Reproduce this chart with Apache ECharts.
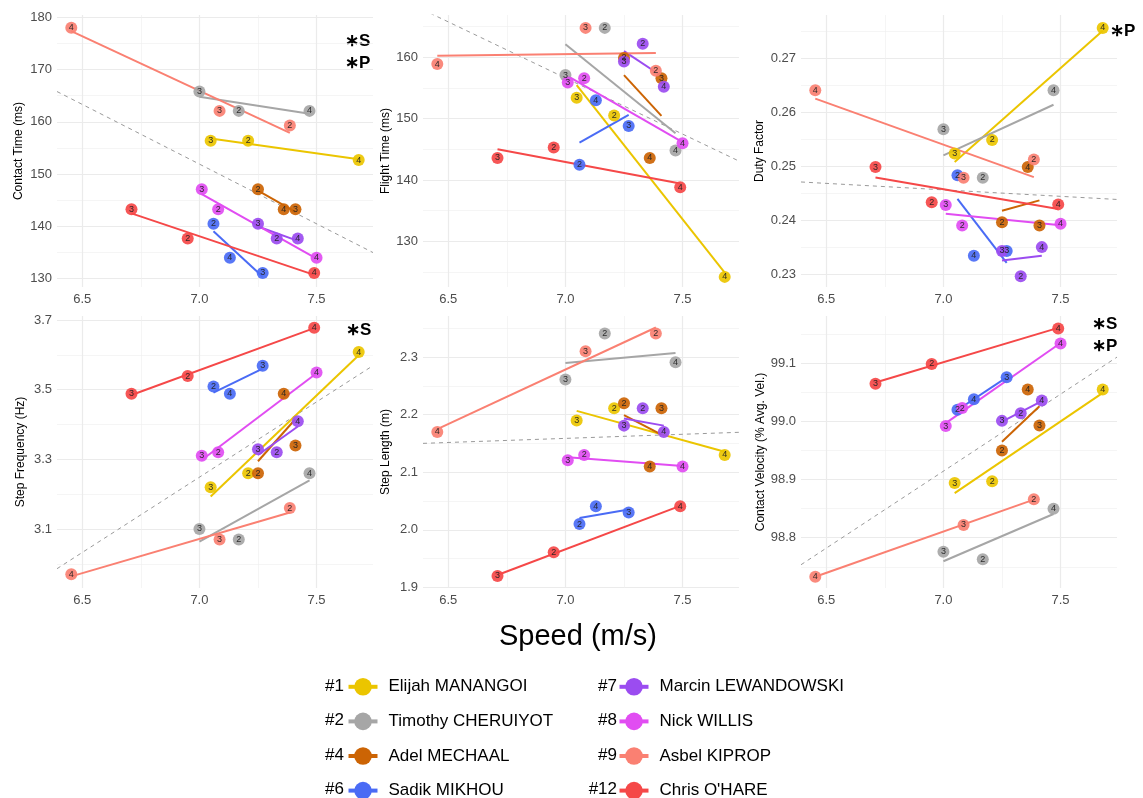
<!DOCTYPE html>
<html>
<head>
<meta charset="utf-8">
<script src="https://cdn.jsdelivr.net/npm/echarts@6/dist/echarts.min.js"></script>
<style>
  html, body { margin: 0; padding: 0; background: #fff; }
  #chart { width: 1143px; height: 798px; }
</style>
</head>
<body>
<div id="chart"></div>
<script>
// athletes in legend order
var athletes = ['Elijah MANANGOI', 'Timothy CHERUIYOT', 'Adel MECHAAL', 'Sadik MIKHOU',
                'Marcin LEWANDOWSKI', 'Nick WILLIS', 'Asbel KIPROP', "Chris O'HARE"];
var bibs = ['#1', '#2', '#4', '#6', '#7', '#8', '#9', '#12'];
var colors = ['#EBC500', '#A6A6A6', '#CC6404', '#4A6BF5', '#9B4CF0', '#E14DF2', '#FA8072', '#F54848'];
var laps = [2, 3, 4];

// values per athlete, for laps 2, 3, 4
var speed = [
  [7.208, 7.048, 7.68], [7.168, 7.0, 7.47], [7.25, 7.41, 7.36], [7.06, 7.27, 7.13],
  [7.33, 7.25, 7.42], [7.08, 7.01, 7.5], [7.386, 7.086, 6.453], [6.95, 6.71, 7.49]
];
var contactTime = [
  [156.4, 156.4, 152.7], [162.1, 165.8, 162.1], [147.1, 143.3, 143.3], [140.5, 131.1, 134.0],
  [137.7, 140.5, 137.7], [143.3, 147.1, 134.0], [159.3, 162.1, 178.0], [137.7, 143.3, 131.1]
];
var flightTime = [
  [150.5, 153.4, 124.2], [164.8, 157.1, 144.8], [159.9, 156.6, 143.6], [142.5, 148.8, 153.0],
  [162.2, 159.3, 155.2], [156.6, 155.9, 146.0], [157.8, 164.8, 158.9], [145.3, 143.6, 138.8]
];
var dutyFactor = [
  [0.2549, 0.2524, 0.2756], [0.2479, 0.2569, 0.2641], [0.2397, 0.2391, 0.2499], [0.2484, 0.2344, 0.2335],
  [0.2297, 0.2344, 0.2351], [0.2391, 0.2429, 0.2394], [0.2513, 0.2479, 0.2641], [0.2434, 0.2499, 0.2430]
];
var stepFreq = [
  [3.26, 3.22, 3.608], [3.07, 3.10, 3.26], [3.26, 3.34, 3.488], [3.509, 3.569, 3.488],
  [3.32, 3.329, 3.409], [3.32, 3.31, 3.549], [3.16, 3.07, 2.97], [3.539, 3.488, 3.678]
];
var stepLength = [
  [2.211, 2.190, 2.130], [2.341, 2.261, 2.291], [2.220, 2.211, 2.110], [2.010, 2.030, 2.041],
  [2.211, 2.181, 2.170], [2.130, 2.121, 2.110], [2.341, 2.310, 2.170], [1.961, 1.920, 2.041]
];
var contactVel = [
  [98.897, 98.894, 99.055], [98.763, 98.776, 98.850], [98.950, 98.993, 99.055], [99.020, 99.076, 99.038],
  [99.014, 99.001, 99.036], [99.023, 98.992, 99.134], [98.866, 98.822, 98.733], [99.099, 99.065, 99.160]
];

// overall (dashed) trend, read at the left and right edge of the speed axis
var trendStart = [165.8, 167.75, 0.24714, 2.986, 2.1502, 98.7535];
var trendEnd = [135.0, 143.08, 0.24391, 3.569, 2.1694, 99.1107];

// tick labels
var speedTicks = [6.5, 7.0, 7.5];
var speedMinor = [6.75, 7.25];
var contactTicks = [130, 140, 150, 160, 170, 180];
var contactMinor = [135, 145, 155, 165, 175];
var flightTicks = [130, 140, 150, 160];
var flightMinor = [125, 135, 145, 155, 165];
var dutyTicks = [0.23, 0.24, 0.25, 0.26, 0.27];
var dutyMinor = [0.235, 0.245, 0.255, 0.265, 0.275];
var freqTicks = [3.1, 3.3, 3.5, 3.7];
var freqMinor = [3.0, 3.2, 3.4, 3.6];
var lengthTicks = [1.9, 2.0, 2.1, 2.2, 2.3];
var lengthMinor = [1.95, 2.05, 2.15, 2.25, 2.35];
var velTicks = [98.8, 98.9, 99.0, 99.1];
var velMinor = [98.75, 98.85, 98.95, 99.05, 99.15];

var FONT = '"Liberation Sans", Arial, sans-serif';
var xMin = 6.392, xMax = 7.741;
var colLeft = [57, 423, 801], rowTop = [15, 316], panelW = 316, panelH = 272;

var panels = [
  { title: 'Contact Time (ms)', values: contactTime, ticks: contactTicks, minor: contactMinor, min: 128.41, max: 180.44, dec: 0, gap: 32 },
  { title: 'Flight Time (ms)', values: flightTime, ticks: flightTicks, minor: flightMinor, min: 122.55, max: 166.9, dec: 0, gap: 31 },
  { title: 'Duty Factor', values: dutyFactor, ticks: dutyTicks, minor: dutyMinor, min: 0.22773, max: 0.2780, dec: 2, gap: 35 },
  { title: 'Step Frequency (Hz)', values: stepFreq, ticks: freqTicks, minor: freqMinor, min: 2.9306, max: 3.7115, dec: 1, gap: 30 },
  { title: 'Step Length (m)', values: stepLength, ticks: lengthTicks, minor: lengthMinor, min: 1.899, max: 2.3714, dec: 1, gap: 31 },
  { title: 'Contact Velocity (% Avg. Vel.)', values: contactVel, ticks: velTicks, minor: velMinor, min: 98.7135, max: 99.1814, dec: 1, gap: 34 }
];

// least squares fit for each athlete's line
function fit(xs, ys) {
  var n = xs.length, mx = 0, my = 0, sxx = 0, sxy = 0;
  for (var i = 0; i < n; i++) { mx += xs[i] / n; my += ys[i] / n; }
  for (var j = 0; j < n; j++) {
    sxx += (xs[j] - mx) * (xs[j] - mx);
    sxy += (xs[j] - mx) * (ys[j] - my);
  }
  var b = sxy / sxx;
  return { a: my - b * mx, b: b };
}

var grids = [], xAxes = [], yAxes = [], series = [];

panels.forEach(function (p, k) {
  var col = k % 3, row = Math.floor(k / 3);
  grids.push({ left: colLeft[col], top: rowTop[row], width: panelW, height: panelH });

  var gridLine = { show: true, lineStyle: { color: '#EBEBEB', width: 1.2 } };
  var minorLine = { show: true, lineStyle: { color: '#EFEFEF', width: 0.6 } };

  xAxes.push({
    type: 'value', gridIndex: k, min: xMin, max: xMax,
    axisLine: { show: false }, axisTick: { show: false, customValues: speedTicks },
    axisLabel: { customValues: speedTicks, color: '#4D4D4D', fontSize: 13, fontFamily: FONT, margin: 6,
                 formatter: function (v) { return v.toFixed(1); } },
    splitLine: gridLine
  });
  xAxes.push({
    type: 'value', gridIndex: k, min: xMin, max: xMax,
    axisLine: { show: false }, axisTick: { show: false, customValues: speedMinor },
    axisLabel: { show: false, customValues: speedMinor },
    splitLine: minorLine
  });
  yAxes.push({
    type: 'value', gridIndex: k, min: p.min, max: p.max,
    name: p.title, nameLocation: 'middle', nameGap: p.gap,
    nameTextStyle: { color: '#000', fontSize: 12, fontFamily: FONT },
    axisLine: { show: false }, axisTick: { show: false, customValues: p.ticks },
    axisLabel: { customValues: p.ticks, color: '#4D4D4D', fontSize: 13, fontFamily: FONT, margin: 5,
                 formatter: (function (d) { return function (v) { return v.toFixed(d); }; })(p.dec) },
    splitLine: gridLine
  });
  yAxes.push({
    type: 'value', gridIndex: k, min: p.min, max: p.max,
    axisLine: { show: false }, axisTick: { show: false, customValues: p.minor },
    axisLabel: { show: false, customValues: p.minor },
    splitLine: minorLine
  });

  var ax = 2 * k;

  // per athlete fit lines first, so legend icons show line + dot
  athletes.forEach(function (name, a) {
    var xs = speed[a], ys = p.values[a];
    var f = fit(xs, ys);
    var lo = Math.min.apply(null, xs), hi = Math.max.apply(null, xs);
    series.push({
      type: 'line', name: name, xAxisIndex: ax, yAxisIndex: ax,
      data: [[lo, f.a + f.b * lo], [hi, f.a + f.b * hi]],
      symbol: 'circle', symbolSize: 12, showSymbol: false, silent: true, z: 2,
      lineStyle: { color: colors[a], width: 2 }, itemStyle: { color: colors[a] }
    });
  });

  // overall trend (dashed)
  series.push({
    type: 'line', name: 'all', xAxisIndex: ax, yAxisIndex: ax,
    data: [[xMin, trendStart[k]], [xMax, trendEnd[k]]],
    showSymbol: false, silent: true, z: 1,
    lineStyle: { color: '#9A9A9A', width: 1, type: [4, 4] }
  });

  athletes.forEach(function (name, a) {
    series.push({
      type: 'scatter', name: name, xAxisIndex: ax, yAxisIndex: ax,
      data: laps.map(function (lap, i) { return [speed[a][i], p.values[a][i], lap]; }),
      symbolSize: 12, z: 3, silent: true,
      itemStyle: { color: colors[a], opacity: 0.92 },
      label: { show: true, position: 'inside', fontSize: 9, fontFamily: FONT, color: '#222',
               formatter: function (q) { return q.value[2]; } }
    });
  });
});

var legendBase = {
  orient: 'vertical', top: 678, height: 150, padding: 0, itemWidth: 29, itemHeight: 22, itemGap: 17,
  selectedMode: false, lineStyle: { width: 4 },
  textStyle: { color: '#000', fontSize: 17, fontFamily: FONT, padding: [0, 0, 0, 6] }
};

var graphics = [
  { type: 'text', left: 499, top: 622, style: { text: 'Speed (m/s)', font: '29px ' + FONT, fill: '#000' } }
];
var rowsY = [686, 720.5, 755, 789.5];
bibs.forEach(function (b, i) {
  graphics.push({ type: 'text', x: i < 4 ? 344 : 617, y: rowsY[i % 4],
    style: { text: b, font: '17px ' + FONT, fill: '#000', textAlign: 'right', textVerticalAlign: 'middle' } });
});
// significance marks
[[345, 41, '\u2217S'], [345, 63, '\u2217P'], [1110, 31, '\u2217P'],
 [346, 330, '\u2217S'], [1092, 324, '\u2217S'], [1092, 346, '\u2217P']].forEach(function (m) {
  graphics.push({ type: 'text', x: m[0], y: m[1],
    style: { text: m[2], font: 'bold 17px ' + FONT, fill: '#000', textVerticalAlign: 'middle' } });
});

var chart = echarts.init(document.getElementById('chart'));
chart.setOption({
  animation: false,
  backgroundColor: '#fff',
  grid: grids,
  xAxis: xAxes,
  yAxis: yAxes,
  legend: [
    Object.assign({}, legendBase, { left: 346.5, data: athletes.slice(0, 4) }),
    Object.assign({}, legendBase, { left: 617.5, data: athletes.slice(4) })
  ],
  graphic: graphics,
  series: series
});
</script>
</body>
</html>
